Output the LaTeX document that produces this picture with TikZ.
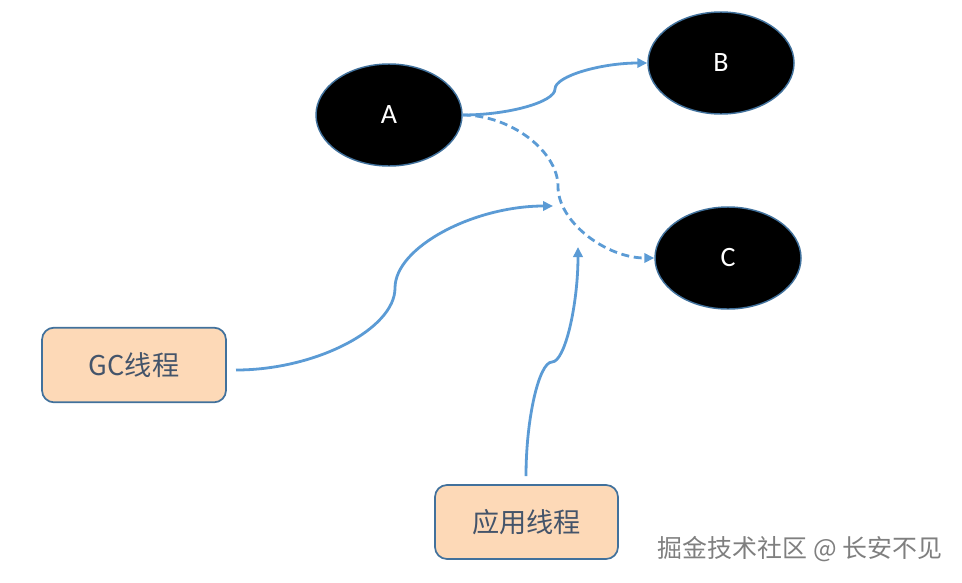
\documentclass[tikz,border=0pt]{standalone}
\usepackage{fontspec}
\setmainfont{Carlito}
\newfontfamily\cjk{Noto Sans CJK SC}
\usetikzlibrary{arrows.meta,shapes.geometric}
\definecolor{conn}{HTML}{5B9BD5}
\definecolor{edgeblue}{HTML}{41719C}
\definecolor{peach}{HTML}{FDD9B7}
\definecolor{txt}{HTML}{44546A}
\definecolor{wm}{HTML}{7F7F7F}
\begin{document}
\begin{tikzpicture}[x=0.75pt,y=-0.75pt,
  obj/.style={ellipse, fill=black, draw=edgeblue, line width=1.1pt,
    minimum width=109.5pt, minimum height=76.5pt, inner sep=0pt,
    text=white, font=\fontsize{21}{25}\selectfont},
  thread/.style={rectangle, rounded corners=9pt, fill=peach, draw=edgeblue,
    line width=1.3pt, minimum width=138pt, minimum height=56pt, inner sep=0pt,
    text=txt, font=\cjk\fontsize{20.4}{24}\selectfont},
  link/.style={draw=conn, line width=2.1pt, -{Triangle[length=7.5pt,width=7pt]}},
  dashlink/.style={link, dash pattern=on 6pt off 3.5pt},
  watermark/.style={text=wm, font=\cjk\fontsize{18.7}{22}\selectfont, inner sep=0pt}]
\useasboundingbox (0,0) rectangle (962,582);
\node[obj] (A) at (389,115) {A};
\node[obj] (B) at (721,63) {B};
\node[obj] (C) at (728,258) {C};
\node[thread] (gc) at (134,365) {GC线程};
\node[thread, minimum width=137.25pt, minimum height=55.5pt] (app) at (526.5,522) {应用线程};
\coordinate (gcstart) at (236,370);
\coordinate (gcend) at (553,206);
\coordinate (appstart) at (526,476);
\coordinate (append) at (578,247);
\draw[link] (A.east) .. controls (508.5,115) and (555,102) .. (555,89)
  .. controls (555,76) and (601.5,63) .. (B.west);
\draw[dashlink] (A.east) .. controls (510,115) and (558,150.75) .. (558,186.5)
  .. controls (558,222.25) and (606.5,258) .. (C.west);
\draw[link] (gcstart) .. controls (315.5,370) and (395,329) .. (395,288)
  .. controls (395,247) and (474,206) .. (gcend);
\draw[link] (appstart) .. controls (526,418.5) and (539,362) .. (552,362)
  .. controls (565,362) and (578,304.5) .. (append);
\node[watermark] (wmtext) at (800,549) {掘金技术社区 @ 长安不见};
\end{tikzpicture}
\end{document}
